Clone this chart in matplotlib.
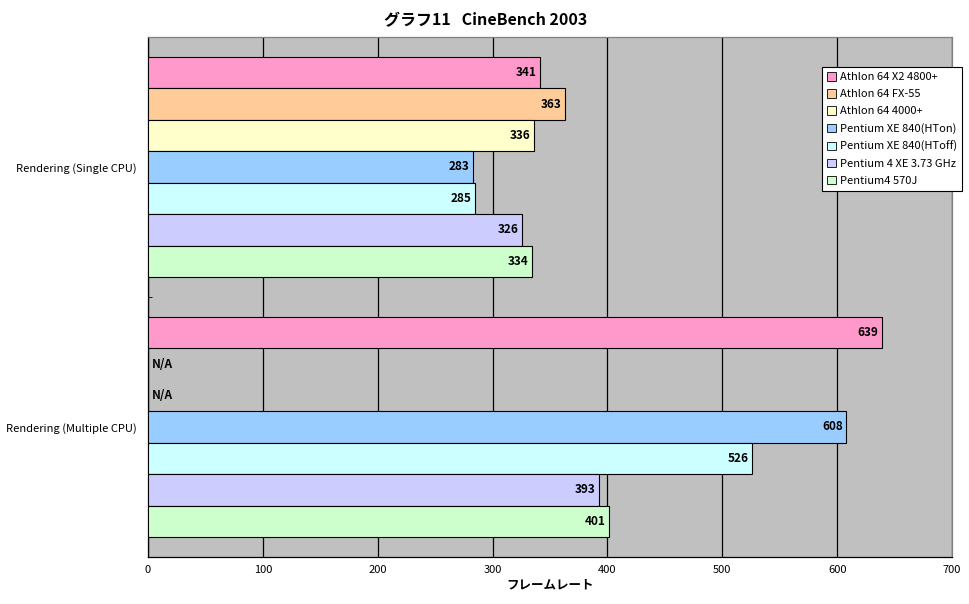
import matplotlib
matplotlib.use("Agg")
import matplotlib.pyplot as plt
import numpy as np
from matplotlib.patches import Patch

plt.rcParams['font.family'] = ['Noto Sans CJK JP', 'DejaVu Sans']

categories = ["Rendering (Single CPU)", "Rendering (Multiple CPU)"]
series = ["Athlon 64 X2 4800+", "Athlon 64 FX-55", "Athlon 64 4000+",
          "Pentium XE 840(HTon)", "Pentium XE 840(HToff)",
          "Pentium 4 XE 3.73 GHz", "Pentium4 570J"]
single_cpu = [341, 363, 336, 283, 285, 326, 334]
multi_cpu = [639, None, None, 608, 526, 393, 401]
colors = ["#FF99CC", "#FFCC99", "#FFFFCC", "#99CCFF", "#CCFFFF", "#CCCCFF", "#CCFFCC"]
xticks = [0, 100, 200, 300, 400, 500, 600, 700]

fig = plt.figure(figsize=(9.7, 6.04), dpi=100)
ax = fig.add_axes([148/970, 1-557/604, (952-148)/970, (557-37)/604])
ax.set_facecolor("#C0C0C0")

n = len(series)
bw = 0.846 / n
group_vals = [single_cpu, multi_cpu]
group_pos = [1, 0]
for g, vals in enumerate(group_vals):
    for i, v in enumerate(vals):
        y = group_pos[g] + 0.423 - bw * (i + 0.5)
        if v is None:
            ax.text(3, y, "N/A", ha="left", va="center", fontsize=8.5, fontweight="bold")
            continue
        ax.barh(y, v, height=bw, color=colors[i], edgecolor="black", linewidth=0.8, zorder=3)
        ax.text(v - 3, y, str(v), ha="right", va="center", fontsize=8.5,
                fontweight="bold", zorder=4)

ax.set_xlim(0, 700)
ax.set_ylim(-0.5, 1.5)
ax.set_xticks(xticks)
ax.set_xticklabels([str(t) for t in xticks], fontsize=8)
ax.set_yticks([1, 0])
ax.set_yticklabels(categories, fontsize=8)
ax.set_yticks([0.5], minor=True)
ax.tick_params(axis="y", which="major", length=0, pad=8)
ax.tick_params(axis="y", which="minor", length=3, direction="in")
ax.tick_params(axis="x", length=0, pad=6)
ax.xaxis.grid(True, color="black", linewidth=0.9, zorder=1)
ax.set_axisbelow(True)
for s in ax.spines.values():
    s.set_color("black")
    s.set_linewidth(0.9)
ax.spines["top"].set_color("#808080")
ax.spines["right"].set_color("#808080")

ax.set_xlabel("フレームレート", fontsize=9, fontweight="bold", labelpad=2)
fig.text(486/970, 1-20/604, "グラフ11   CineBench 2003", ha="center", va="center",
         fontsize=11.5, fontweight="bold")

handles = [Patch(facecolor=c, edgecolor="black", linewidth=0.6) for c in colors]
leg = fig.legend(handles, series, loc="upper left",
                 bbox_to_anchor=(822/970, 1-67/604), fontsize=8,
                 frameon=True, fancybox=False, framealpha=1, handlelength=0.8,
                 handleheight=0.8, handletextpad=0.4, labelspacing=0.62,
                 borderpad=0.45, borderaxespad=0)
leg.get_frame().set_edgecolor("black")
leg.get_frame().set_facecolor("white")
leg.get_frame().set_linewidth(0.8)

fig.savefig("out.png", dpi=100)
